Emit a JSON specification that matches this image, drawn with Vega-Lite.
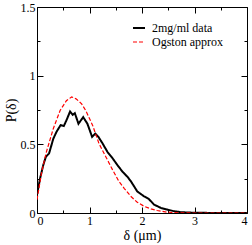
{
  "$schema": "https://vega.github.io/schema/vega-lite/v6.json",
  "width": 210,
  "height": 206,
  "autosize": {"type": "none"},
  "padding": {"left": 37, "top": 7, "right": 5, "bottom": 32},
  "background": "white",
  "config": {
    "view": {"stroke": "black", "strokeWidth": 1},
    "font": "Liberation Serif",
    "axis": {"grid": false, "domain": false, "tickColor": "black", "labelColor": "black", "titleColor": "black", "labelFont": "Liberation Serif", "titleFont": "Liberation Serif", "labelFontSize": 12, "titleFontSize": 14, "titleFontWeight": "normal"}
  },
  "data": {"values": [
    {"d": 0, "p": 0.133, "s": "2mg/ml data"},
    {"d": 0.06, "p": 0.254, "s": "2mg/ml data"},
    {"d": 0.12, "p": 0.35, "s": "2mg/ml data"},
    {"d": 0.17, "p": 0.41, "s": "2mg/ml data"},
    {"d": 0.23, "p": 0.434, "s": "2mg/ml data"},
    {"d": 0.31, "p": 0.54, "s": "2mg/ml data"},
    {"d": 0.37, "p": 0.59, "s": "2mg/ml data"},
    {"d": 0.45, "p": 0.64, "s": "2mg/ml data"},
    {"d": 0.51, "p": 0.633, "s": "2mg/ml data"},
    {"d": 0.56, "p": 0.674, "s": "2mg/ml data"},
    {"d": 0.63, "p": 0.739, "s": "2mg/ml data"},
    {"d": 0.68, "p": 0.715, "s": "2mg/ml data"},
    {"d": 0.72, "p": 0.727, "s": "2mg/ml data"},
    {"d": 0.79, "p": 0.65, "s": "2mg/ml data"},
    {"d": 0.88, "p": 0.698, "s": "2mg/ml data"},
    {"d": 0.96, "p": 0.65, "s": "2mg/ml data"},
    {"d": 1.05, "p": 0.554, "s": "2mg/ml data"},
    {"d": 1.11, "p": 0.578, "s": "2mg/ml data"},
    {"d": 1.17, "p": 0.554, "s": "2mg/ml data"},
    {"d": 1.25, "p": 0.506, "s": "2mg/ml data"},
    {"d": 1.34, "p": 0.446, "s": "2mg/ml data"},
    {"d": 1.44, "p": 0.398, "s": "2mg/ml data"},
    {"d": 1.53, "p": 0.35, "s": "2mg/ml data"},
    {"d": 1.63, "p": 0.3, "s": "2mg/ml data"},
    {"d": 1.72, "p": 0.265, "s": "2mg/ml data"},
    {"d": 1.79, "p": 0.23, "s": "2mg/ml data"},
    {"d": 1.91, "p": 0.157, "s": "2mg/ml data"},
    {"d": 2.04, "p": 0.121, "s": "2mg/ml data"},
    {"d": 2.13, "p": 0.102, "s": "2mg/ml data"},
    {"d": 2.23, "p": 0.061, "s": "2mg/ml data"},
    {"d": 2.36, "p": 0.037, "s": "2mg/ml data"},
    {"d": 2.48, "p": 0.025, "s": "2mg/ml data"},
    {"d": 2.61, "p": 0.013, "s": "2mg/ml data"},
    {"d": 2.74, "p": 0.006, "s": "2mg/ml data"},
    {"d": 2.9, "p": 0.003, "s": "2mg/ml data"},
    {"d": 3.2, "p": 0.001, "s": "2mg/ml data"},
    {"d": 3.6, "p": 0.0, "s": "2mg/ml data"},
    {"d": 4.0, "p": 0.0, "s": "2mg/ml data"},
    {"d": 0, "p": 0.097, "s": "Ogston approx"},
    {"d": 0.09, "p": 0.3, "s": "Ogston approx"},
    {"d": 0.18, "p": 0.446, "s": "Ogston approx"},
    {"d": 0.31, "p": 0.614, "s": "Ogston approx"},
    {"d": 0.44, "p": 0.746, "s": "Ogston approx"},
    {"d": 0.56, "p": 0.818, "s": "Ogston approx"},
    {"d": 0.66, "p": 0.845, "s": "Ogston approx"},
    {"d": 0.75, "p": 0.83, "s": "Ogston approx"},
    {"d": 0.85, "p": 0.795, "s": "Ogston approx"},
    {"d": 0.93, "p": 0.745, "s": "Ogston approx"},
    {"d": 1.06, "p": 0.638, "s": "Ogston approx"},
    {"d": 1.18, "p": 0.506, "s": "Ogston approx"},
    {"d": 1.31, "p": 0.41, "s": "Ogston approx"},
    {"d": 1.44, "p": 0.314, "s": "Ogston approx"},
    {"d": 1.56, "p": 0.23, "s": "Ogston approx"},
    {"d": 1.66, "p": 0.18, "s": "Ogston approx"},
    {"d": 1.79, "p": 0.12, "s": "Ogston approx"},
    {"d": 1.91, "p": 0.078, "s": "Ogston approx"},
    {"d": 2.04, "p": 0.049, "s": "Ogston approx"},
    {"d": 2.17, "p": 0.03, "s": "Ogston approx"},
    {"d": 2.29, "p": 0.018, "s": "Ogston approx"},
    {"d": 2.48, "p": 0.006, "s": "Ogston approx"},
    {"d": 2.7, "p": 0.001, "s": "Ogston approx"},
    {"d": 3.0, "p": 0.0, "s": "Ogston approx"},
    {"d": 4.0, "p": 0.0, "s": "Ogston approx"}
  ]},
  "resolve": {"axis": {"x": "independent", "y": "independent"}},
  "layer": [
    {
      "mark": {"type": "line", "clip": true},
      "encoding": {
        "x": {"field": "d", "type": "quantitative", "scale": {"domain": [0, 4], "nice": false},
          "axis": {"orient": "bottom", "title": "δ (μm)", "values": [0, 0.5, 1, 1.5, 2, 2.5, 3, 3.5, 4], "format": "~g", "labelExpr": "datum.value % 1 === 0 ? datum.label : ''", "tickSize": {"condition": {"test": "datum.value % 1 === 0", "value": -6}, "value": -3}, "labelPadding": 8, "titlePadding": 2}},
        "y": {"field": "p", "type": "quantitative", "scale": {"domain": [0, 1.5], "nice": false},
          "axis": {"orient": "left", "title": "P(δ)", "values": [0, 0.25, 0.5, 0.75, 1, 1.25, 1.5], "format": "~g", "labelExpr": "datum.value % 0.5 === 0 ? datum.label : ''", "tickSize": {"condition": {"test": "datum.value % 0.5 === 0", "value": -6}, "value": -3}, "labelPadding": 8, "titlePadding": 2}},
        "color": {"field": "s", "type": "nominal", "scale": {"domain": ["2mg/ml data", "Ogston approx"], "range": ["black", "red"]},
          "legend": {"title": null, "orient": "none", "legendX": 95, "legendY": 14, "symbolType": "stroke", "symbolSize": 144, "labelFont": "Liberation Serif", "labelFontSize": 12, "labelColor": "black", "rowPadding": 1, "labelOffset": 6}},
        "strokeDash": {"field": "s", "type": "nominal", "scale": {"domain": ["2mg/ml data", "Ogston approx"], "range": [[1, 0], [4, 2]]}, "legend": {"title": null, "orient": "none", "legendX": 95, "legendY": 14}},
        "strokeWidth": {"field": "s", "type": "nominal", "scale": {"domain": ["2mg/ml data", "Ogston approx"], "range": [2, 1.2]}, "legend": {"title": null, "orient": "none", "legendX": 95, "legendY": 14}}
      }
    },
    {
      "mark": {"type": "line", "opacity": 0},
      "encoding": {
        "x": {"field": "d", "type": "quantitative", "axis": {"orient": "top", "title": null, "labels": false, "values": [0, 0.5, 1, 1.5, 2, 2.5, 3, 3.5, 4], "tickSize": {"condition": {"test": "datum.value % 1 === 0", "value": -6}, "value": -3}}},
        "y": {"field": "p", "type": "quantitative", "axis": {"orient": "right", "title": null, "labels": false, "values": [0, 0.25, 0.5, 0.75, 1, 1.25, 1.5], "tickSize": {"condition": {"test": "datum.value % 0.5 === 0", "value": -6}, "value": -3}}},
        "detail": {"field": "s"}
      }
    }
  ]
}
